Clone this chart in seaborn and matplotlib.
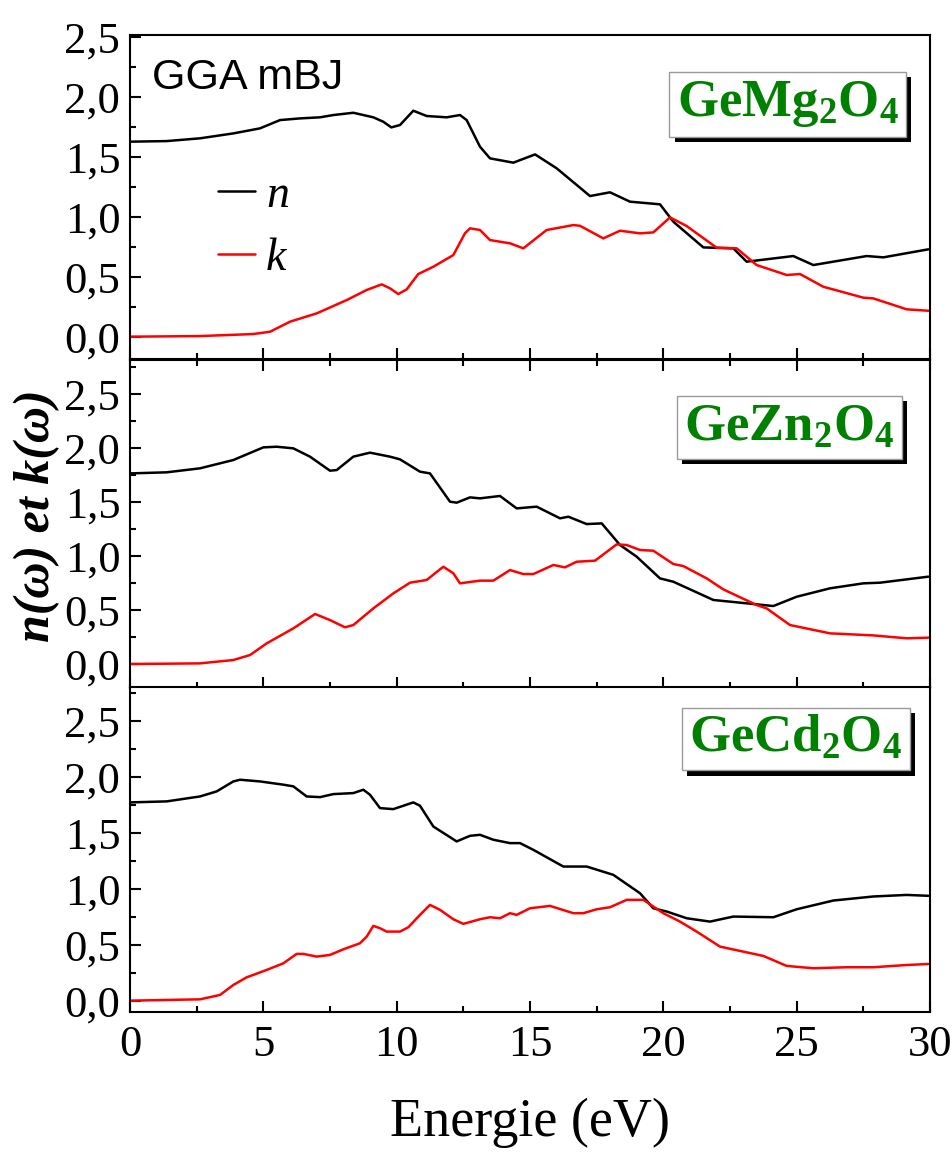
import numpy as np
import pandas as pd
import matplotlib
matplotlib.use("Agg")
import matplotlib.pyplot as plt
import seaborn as sns
from matplotlib.ticker import MultipleLocator, FuncFormatter, FixedLocator
from matplotlib.font_manager import FontProperties
import matplotlib.patheffects as pe

# ---------------- data ----------------
compounds = ["GeMg$\\mathregular{_2}$O$\\mathregular{_4}$",
             "GeZn$\\mathregular{_2}$O$\\mathregular{_4}$",
             "GeCd$\\mathregular{_2}$O$\\mathregular{_4}$"]

# GeMg2O4
mg_n_E = [0, 1.375, 2.625, 3.875, 4.875, 5.625, 6.375, 7.125, 7.625, 8.375, 9.125, 9.5, 9.8, 10.125,
          10.625, 11.125, 11.875, 12.375, 12.625, 13.125, 13.5, 14.375, 15.19, 16.0, 17.25, 18.0,
          18.75, 19.875, 20.375, 21.5, 22.625, 23.125, 24.875, 25.625, 27.625, 28.25, 29.94]
mg_n = [1.628, 1.633, 1.656, 1.697, 1.739, 1.808, 1.822, 1.831, 1.85, 1.869, 1.831, 1.794, 1.747, 1.767,
        1.886, 1.842, 1.831, 1.85, 1.808, 1.586, 1.489, 1.453, 1.522, 1.406, 1.175, 1.206,
        1.128, 1.106, 0.961, 0.747, 0.739, 0.628, 0.675, 0.6, 0.675, 0.664, 0.731]
mg_k_E = [0, 2.625, 4.625, 5.25, 6.0, 7.0, 8.125, 8.875, 9.44, 9.75, 10.06, 10.375, 10.81, 11.375,
          12.125, 12.56, 12.75, 13.125, 13.5, 14.25, 14.75, 15.625, 16.625, 16.875, 17.75, 18.375,
          19.125, 19.625, 20.25, 20.875, 22.0, 22.75, 23.5, 24.625, 25.125, 26.0, 27.5, 27.875,
          29.125, 29.94]
mg_k = [0.003, 0.008, 0.025, 0.044, 0.128, 0.197, 0.308, 0.392, 0.439, 0.406, 0.358, 0.397, 0.525, 0.586,
        0.683, 0.864, 0.906, 0.892, 0.808, 0.781, 0.739, 0.892, 0.933, 0.927, 0.822, 0.886,
        0.864, 0.872, 0.997, 0.925, 0.744, 0.739, 0.6, 0.517, 0.525, 0.419, 0.328, 0.322,
        0.231, 0.219]

# GeZn2O4
zn_n_E = [0, 1.375, 2.625, 3.875, 5.0, 5.5, 6.125, 6.75, 7.5, 7.75, 8.375, 9.0, 9.75, 10.125, 10.875,
          11.25, 12.0, 12.25, 12.75, 13.125, 13.875, 14.5, 15.25, 16.125, 16.44, 17.125, 17.69,
          18.375, 19.0, 19.875, 20.375, 21.875, 23.125, 24.125, 25.0, 26.25, 27.5, 28.125, 29.94]
zn_n = [1.765, 1.775, 1.812, 1.889, 2.006, 2.012, 1.997, 1.92, 1.79, 1.796, 1.92, 1.957, 1.92, 1.895, 1.781,
        1.765, 1.503, 1.494, 1.543, 1.534, 1.556, 1.441, 1.457, 1.349, 1.364, 1.296, 1.302,
        1.102, 0.994, 0.793, 0.762, 0.593, 0.562, 0.537, 0.623, 0.701, 0.747, 0.753, 0.809]
zn_k_E = [0, 2.625, 3.875, 4.5, 5.125, 6.125, 6.94, 7.5, 8.06, 8.375, 9.125, 9.875, 10.5, 11.125, 11.75,
          12.125, 12.375, 13.125, 13.625, 14.25, 14.75, 15.125, 15.875, 16.31, 16.75, 17.44, 18.25,
          18.625, 19.125, 19.625, 20.375, 20.75, 21.625, 22.25, 23.5, 23.875, 24.75, 26.25, 27.875,
          29.125, 29.94]
zn_k = [0.0, 0.006, 0.037, 0.083, 0.191, 0.33, 0.463, 0.407, 0.34, 0.361, 0.515, 0.654, 0.753, 0.778, 0.901,
        0.84, 0.747, 0.772, 0.772, 0.87, 0.833, 0.833, 0.917, 0.895, 0.947, 0.957, 1.108,
        1.102, 1.056, 1.049, 0.926, 0.907, 0.793, 0.691, 0.546, 0.515, 0.361, 0.284, 0.265,
        0.238, 0.244]

# GeCd2O4
cd_n_E = [0, 1.375, 2.625, 3.25, 3.875, 4.125, 4.875, 5.75, 6.125, 6.625, 7.125, 7.625, 8.375, 8.75, 9.0,
          9.375, 9.875, 10.625, 10.875, 11.375, 12.25, 12.75, 13.125, 13.625, 14.25, 14.625, 15.125,
          16.25, 17.125, 18.125, 19.125, 19.625, 20.125, 20.875, 21.75, 22.625, 24.125, 25.0, 26.375,
          27.875, 29.125, 29.94]
cd_n = [1.771, 1.78, 1.824, 1.869, 1.958, 1.973, 1.958, 1.929, 1.914, 1.824, 1.818, 1.845, 1.854, 1.884, 1.839,
        1.72, 1.711, 1.771, 1.741, 1.556, 1.423, 1.473, 1.482, 1.438, 1.408, 1.408, 1.348,
        1.199, 1.199, 1.125, 0.961, 0.827, 0.798, 0.738, 0.708, 0.753, 0.747, 0.818, 0.896,
        0.932, 0.946, 0.938]
cd_k_E = [0, 2.625, 3.375, 3.875, 4.375, 5.125, 5.75, 6.25, 6.5, 7.0, 7.5, 8.0, 8.625, 8.875, 9.125, 9.375,
          9.625, 10.125, 10.44, 10.875, 11.25, 11.625, 12.125, 12.5, 13.125, 13.5, 13.875, 14.25, 14.5,
          15.0, 15.75, 16.625, 17.0, 17.5, 18.0, 18.625, 19.25, 20.0, 20.625, 21.25, 22.125, 23.75,
          24.625, 25.625, 26.875, 27.875, 29.125, 29.94]
cd_k = [0.003, 0.015, 0.054, 0.143, 0.211, 0.277, 0.336, 0.42, 0.42, 0.396, 0.411, 0.461, 0.515, 0.574, 0.67, 0.649,
        0.619, 0.619, 0.658, 0.768, 0.857, 0.813, 0.729, 0.688, 0.729, 0.747, 0.738, 0.783, 0.768,
        0.827, 0.848, 0.783, 0.783, 0.818, 0.836, 0.902, 0.902, 0.783, 0.708, 0.619, 0.485, 0.402,
        0.313, 0.292, 0.301, 0.301, 0.321, 0.33]

y_ticks = [0.0, 0.5, 1.0, 1.5, 2.0, 2.5]
x_ticks = [0, 5, 10, 15, 20, 25, 30]

panels = [
    (compounds[0], mg_n_E, mg_n, mg_k_E, mg_k),
    (compounds[1], zn_n_E, zn_n, zn_k_E, zn_k),
    (compounds[2], cd_n_E, cd_n, cd_k_E, cd_k),
]

# ---------------- style ----------------
sns.set_style("ticks")
plt.rcParams["font.family"] = ["Liberation Serif", "DejaVu Serif"]
for key in ["text.color", "axes.labelcolor", "xtick.color", "ytick.color", "axes.edgecolor"]:
    plt.rcParams[key] = "black"
plt.rcParams["axes.linewidth"] = 1.5

W, H = 953, 1154
fig = plt.figure(figsize=(W / 100, H / 100), dpi=100)

rects = [(35, 359), (360, 688), (687, 1012)]
ylims = [(-0.183, 2.517), (-0.222, 2.815), (-0.098, 2.80)]
box_pos = [(0.822, 0.786), (0.824, 0.794), (0.8325, 0.84)]
left_px, right_px = 130, 930

fmt = FuncFormatter(lambda v, p: f"{v:.1f}".replace(".", ","))
axes = []
for i, (name, nE, nv, kE, kv) in enumerate(panels):
    top, bot = rects[i]
    ax = fig.add_axes([left_px / W, 1 - bot / H, (right_px - left_px) / W, (bot - top) / H])
    axes.append(ax)
    sns.lineplot(x=nE, y=nv, ax=ax, color="black", linewidth=1.8, label="n",
                 sort=False, estimator=None)
    sns.lineplot(x=kE, y=kv, ax=ax, color="#ff0000", linewidth=1.8, label="k",
                 sort=False, estimator=None)
    ax.set_xlim(0, 30)
    ax.set_ylim(*ylims[i])
    ax.xaxis.set_major_locator(FixedLocator(x_ticks))
    ax.xaxis.set_minor_locator(MultipleLocator(2.5))
    ax.yaxis.set_major_locator(FixedLocator(y_ticks))
    ax.yaxis.set_minor_locator(MultipleLocator(0.25))
    ax.yaxis.set_major_formatter(fmt)
    ax.tick_params(which="both", direction="in", width=1.5, right=False,
                   top=(i == 1), labelsize=32, pad=7, colors="black")
    ax.tick_params(which="major", length=8)
    ax.tick_params(which="minor", length=4)
    ax.set_xlabel("")
    ax.set_ylabel("")
    for s in ax.spines.values():
        s.set_visible(True)
        s.set_linewidth(1.5)
        s.set_color("black")
    if i < 2:
        ax.tick_params(labelbottom=False)
    else:
        ax.tick_params(axis="x", pad=9)
    if ax.get_legend() is not None:
        ax.get_legend().remove()

    # compound label in a box with a drop shadow
    bx, by = box_pos[i]
    t = ax.text(bx, by, name, transform=ax.transAxes, color="#008000",
                ha="center", va="center", fontsize=38, fontweight="bold",
                family="Liberation Serif", zorder=6,
                bbox=dict(boxstyle="square,pad=0.14", fc="white", ec="#9a9a9a", lw=1))
    t.get_bbox_patch().set_path_effects([
        pe.SimplePatchShadow(offset=(3.8, -3.8), shadow_rgbFace="black", alpha=1.0),
        pe.Normal()])

# top panel extras
ax0 = axes[0]
ax0.text(0.0275, 0.833, "GGA mBJ", transform=ax0.transAxes, ha="left", va="baseline",
         fontsize=31, family="Liberation Sans", color="black")
handles, labels = ax0.get_legend_handles_labels()
ax0.legend(handles, labels, loc="upper left", bbox_to_anchor=(0.11, 0.57), frameon=False,
           prop=FontProperties(family="Liberation Serif", style="italic", size=33),
           handlelength=0.8, handletextpad=0.25, labelspacing=0.45,
           borderaxespad=0, borderpad=0)

fig.text(0.039, 0.553, "n(ω) et k(ω)", rotation=90, ha="center", va="center",
         fontsize=36, fontweight="bold", style="italic", family="Liberation Serif")
fig.text(0.556, 0.027, "Energie (eV)", ha="center", va="center", fontsize=39,
         family="Liberation Serif")

fig.savefig("out.png", dpi=100)
